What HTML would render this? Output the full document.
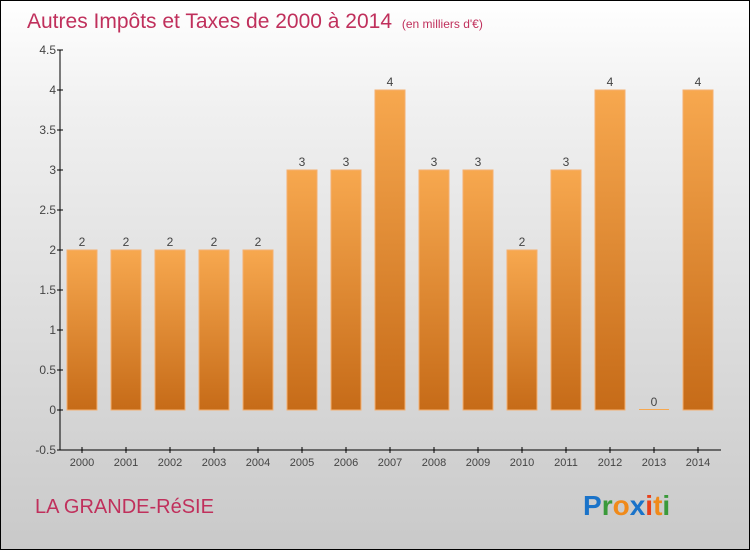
<!DOCTYPE html>
<html><head><meta charset="utf-8"><style>
body{margin:0}
#c{width:750px;height:550px;position:relative;overflow:hidden;box-sizing:border-box;border:1px solid #000;background:linear-gradient(#fff,#f0f0f0 20%,#c9c9c9);font-family:"Liberation Sans",sans-serif}
</style></head><body>
<div id="c">
<svg width="750" height="550" style="position:absolute;left:-1px;top:-1px">
<defs><linearGradient id="g" x1="0" y1="0" x2="0" y2="1"><stop offset="0" stop-color="#f7a84f"/><stop offset="1" stop-color="#c66b18"/></linearGradient></defs>
<text x="27" y="28" font-size="21" fill="#c0305c">Autres Impôts et Taxes de 2000 à 2014 <tspan font-size="12" dx="4">(en milliers d'€)</tspan></text>
<text x="35" y="513" font-size="20" fill="#c0305c">LA GRANDE-RéSIE</text>
<text x="583" y="515" font-size="28" font-weight="bold"><tspan fill="#1a73c9">P</tspan><tspan fill="#3a9a3a">r</tspan><tspan fill="#f08a1a">o</tspan><tspan fill="#1a73c9">x</tspan><tspan fill="#e8401a">i</tspan><tspan fill="#f08a1a">t</tspan><tspan fill="#3a9a3a">i</tspan></text>
<g id="axes"></g><g id="bars"></g>
</svg>
</div>
<script>
const years=["2000","2001","2002","2003","2004","2005","2006","2007","2008","2009","2010","2011","2012","2013","2014"];
const values=[2,2,2,2,2,3,3,4,3,3,2,3,4,0,4];
const yTicks=[-0.5,0,0.5,1,1.5,2,2.5,3,3.5,4,4.5];
const ns="http://www.w3.org/2000/svg";
const y=v=>410-v*80, x=i=>82+i*44;
const ax=document.getElementById('axes'), bg=document.getElementById('bars');
function mk(t,a,p){const e=document.createElementNS(ns,t);for(const k in a)e.setAttribute(k,a[k]);p.appendChild(e);return e;}
let l=mk('line',{x1:60,y1:50,x2:60,y2:450,stroke:'#000'},ax);


l=mk('line',{x1:60,y1:450,x2:721,y2:450,stroke:'#000'},ax);


yTicks.forEach(v=>{
 mk('line',{x1:57,y1:y(v),x2:63,y2:y(v),stroke:'#000'},ax);
 const t=mk('text',{x:56,y:y(v)+4,'text-anchor':'end','font-size':12,fill:'#444'},ax);
 t.textContent=String(v);
 
 
});
years.forEach((yr,i)=>{
 mk('line',{x1:x(i),y1:447,x2:x(i),y2:453,stroke:'#000'},ax);
 const t=mk('text',{x:x(i),y:466,'text-anchor':'middle','font-size':11,fill:'#444'},ax);
 t.textContent=yr;
 
 
 const v=values[i];
 const h=Math.max(1,v*80);
 const r=mk('rect',{x:x(i)-15,y:y(v)-(v===0?1:0),width:30,height:h,fill:v===0?'#f7a84f':'url(#g)',stroke:'#f5b070','stroke-width':v===0?0:1},bg);
 
 
 const lb=mk('text',{x:x(i),y:y(v)-4,'text-anchor':'middle','font-size':12,fill:'#444'},bg);
 lb.textContent=String(v);
 
 
});
</script>
</body></html>
